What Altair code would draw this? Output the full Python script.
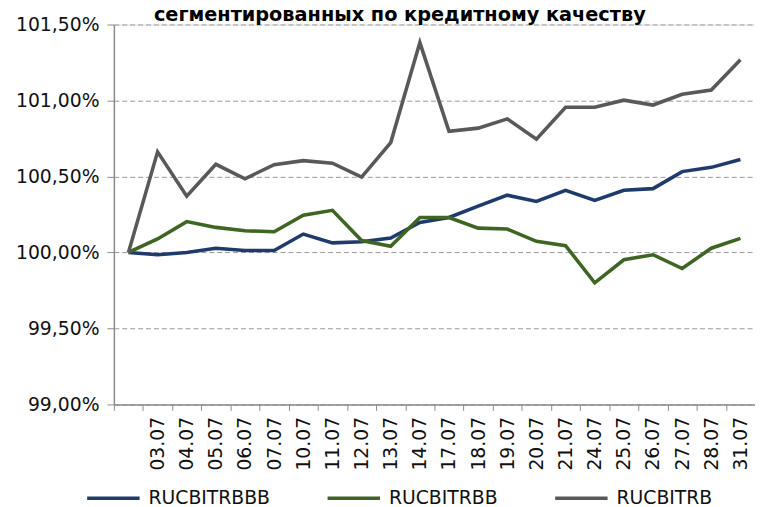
import altair as alt
import pandas as pd

dates = [" ", "03.07", "04.07", "05.07", "06.07", "07.07", "10.07", "11.07", "12.07",
         "13.07", "14.07", "17.07", "18.07", "19.07", "20.07", "21.07", "24.07",
         "25.07", "26.07", "27.07", "28.07", "31.07"]

rucbitrbbb = [100.00, 99.985, 100.00, 100.028, 100.013, 100.013, 100.121, 100.063, 100.071,
              100.095, 100.197, 100.23, 100.305, 100.377, 100.336, 100.409, 100.342,
              100.409, 100.42, 100.532, 100.56, 100.612]
rucbitrbb = [100.00, 100.089, 100.203, 100.165, 100.143, 100.136, 100.245, 100.277, 100.078,
             100.041, 100.23, 100.23, 100.16, 100.154, 100.073, 100.045, 99.80,
             99.952, 99.985, 99.894, 100.028, 100.093]
rucbitrb = [100.00, 100.662, 100.37, 100.58, 100.485, 100.578, 100.604, 100.587, 100.496,
            100.723, 101.381, 100.797, 100.818, 100.879, 100.745, 100.955, 100.955,
            101.002, 100.97, 101.041, 101.069, 101.268]

series_names = ["RUCBITRBBB", "RUCBITRBB", "RUCBITRB"]
series_colors = ["#1f3b6e", "#3f6522", "#595959"]
y_ticks = [99.0, 99.5, 100.0, 100.5, 101.0, 101.5]
title_text = ["сегментированных по кредитному качеству"]

rows = []
for name, vals in zip(series_names, [rucbitrbbb, rucbitrbb, rucbitrb]):
    for d, v in zip(dates, vals):
        rows.append({"date": d, "value": v, "series": name})
df = pd.DataFrame(rows)

FONT = "DejaVu Sans"

lines = alt.Chart(df).mark_line(strokeWidth=3.6, strokeJoin="miter").encode(
    x=alt.X("date:N", sort=dates, bandPosition=0.5,
            scale=alt.Scale(type="band", paddingInner=0, paddingOuter=0),
            axis=alt.Axis(title=None, labelAngle=-90, tickBand="extent", grid=False,
                          domainColor="#8c8c8c", domainWidth=1.5, tickColor="#8c8c8c",
                          tickSize=6, labelPadding=6, labelFont=FONT, labelFontSize=19,
                          labelColor="#111111")),
    y=alt.Y("value:Q", scale=alt.Scale(domain=[99.0, 101.5], nice=False, zero=False),
            axis=alt.Axis(title=None, values=y_ticks,
                          labelExpr="replace(format(datum.value, '.2f'), '.', ',') + '%'",
                          grid=True, gridColor="#9a9a9a", gridDash=[5, 3], gridWidth=1,
                          domainColor="#8c8c8c", domainWidth=1.5, tickColor="#8c8c8c",
                          tickSize=7, labelPadding=8, labelFont=FONT, labelFontSize=19,
                          labelColor="#111111")),
    color=alt.Color("series:N", sort=series_names,
                    scale=alt.Scale(domain=series_names, range=series_colors),
                    legend=alt.Legend(title=None, orient="none", direction="horizontal",
                                      legendX=-29, legendY=450, symbolType="stroke",
                                      symbolSize=2809, symbolStrokeWidth=3.6,
                                      labelFont=FONT, labelFontSize=19, labelColor="#111111",
                                      labelOffset=7, columnPadding=50)),
)

title = alt.Chart(pd.DataFrame({"t": title_text})).mark_text(
    font=FONT, fontSize=19.5, fontWeight="bold", color="#000000",
    align="center", baseline="alphabetic",
).encode(text="t:N", x=alt.value(289), y=alt.value(-4))

chart = alt.layer(lines, title).properties(
    width=648,
    height=384,
    autosize=alt.AutoSizeParams(type="none"),
    padding={"left": 107, "top": 14, "right": 0, "bottom": 101},
).configure_view(stroke=None).configure(background="white")

chart.save("out.html", embed_options={"renderer": "svg", "actions": False})
